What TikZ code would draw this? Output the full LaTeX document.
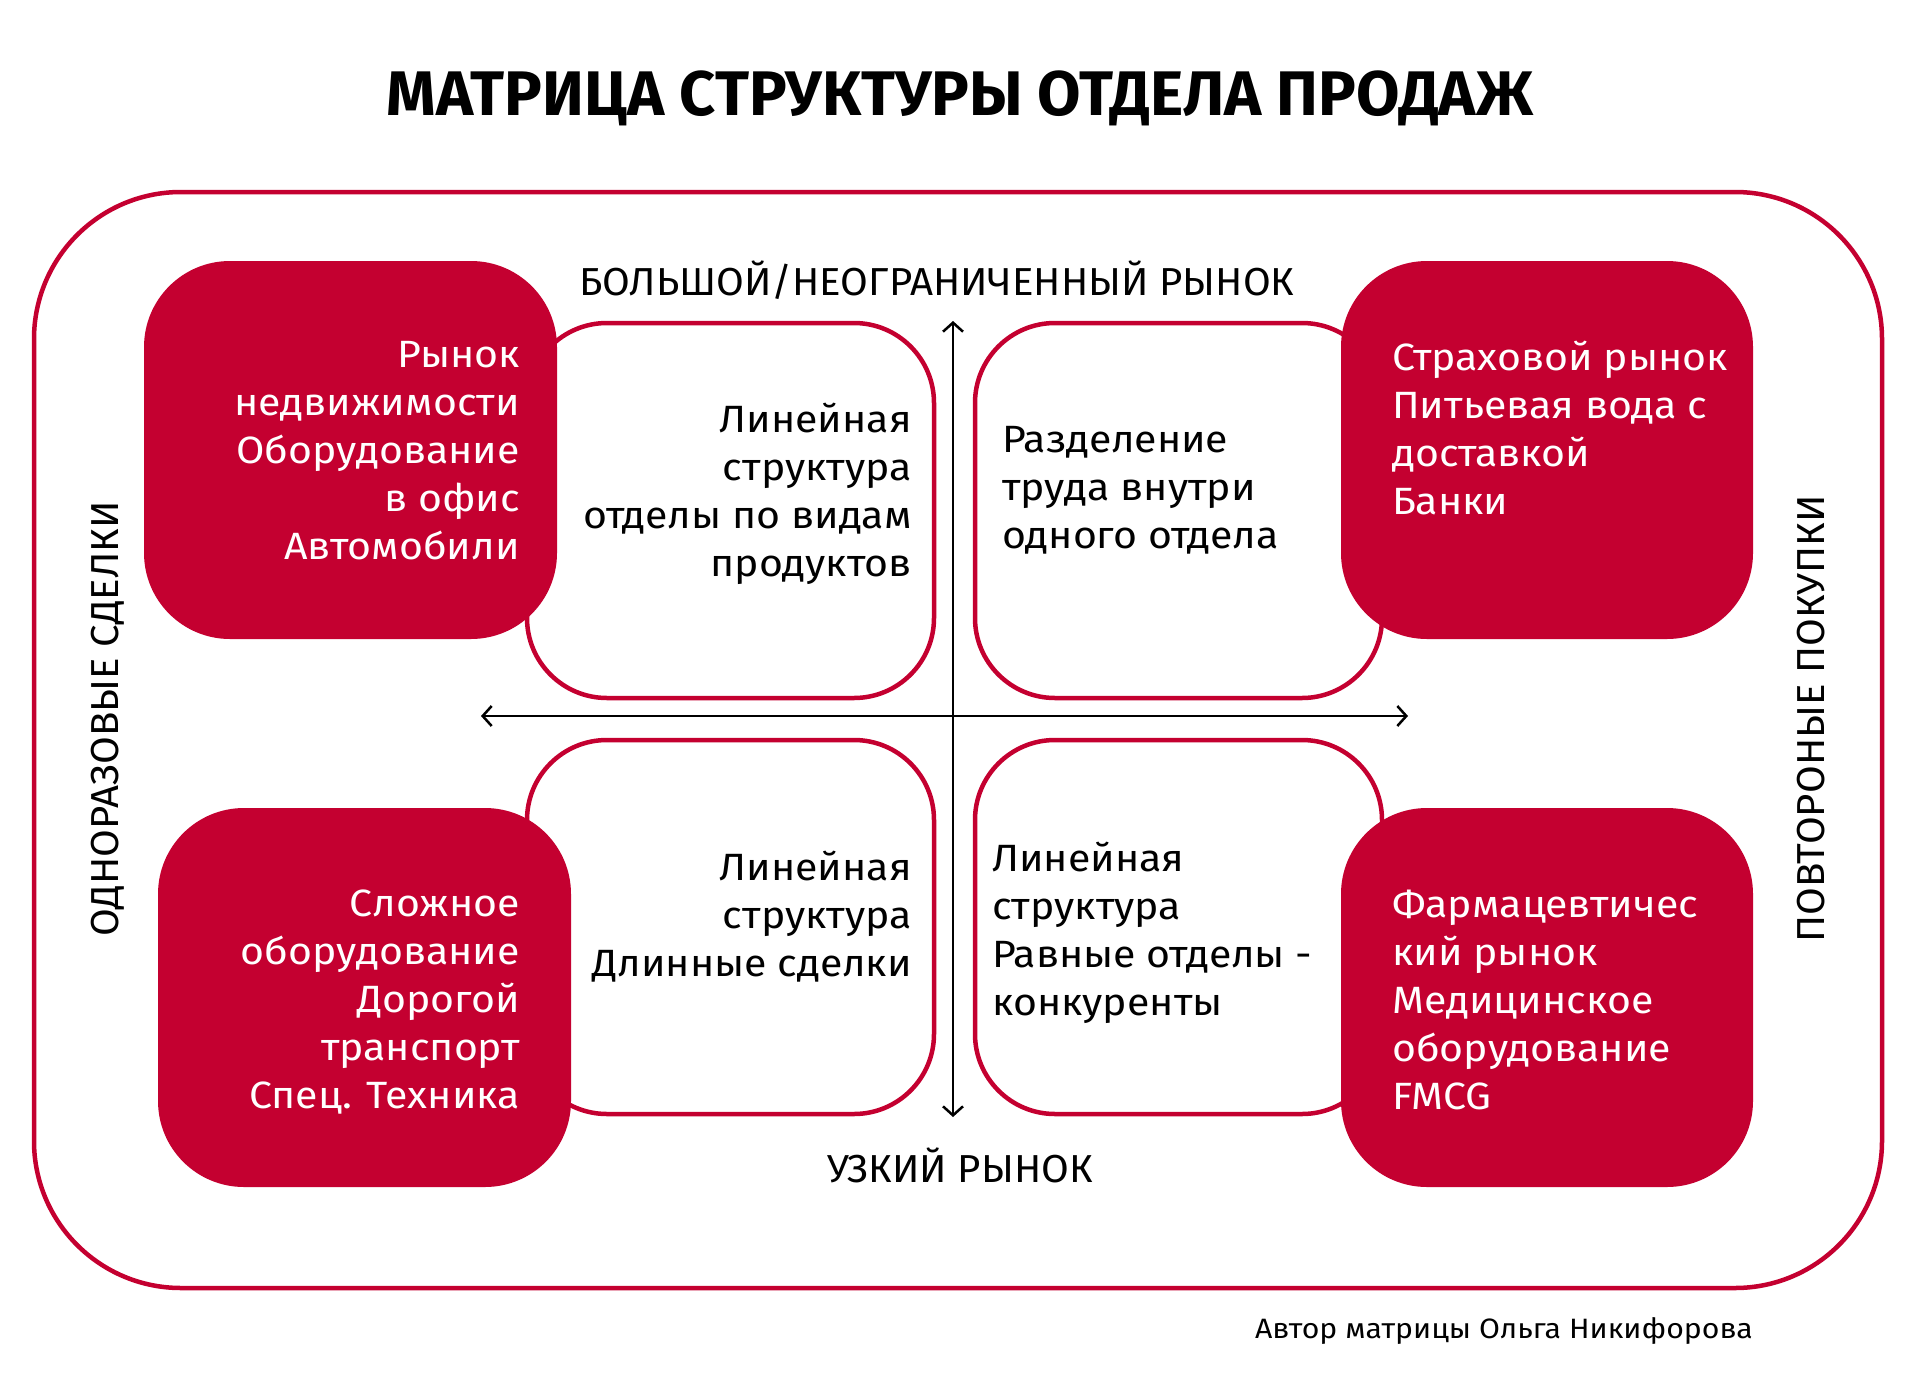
\documentclass[tikz,border=0pt]{standalone}
\usepackage{fontspec}
\setmainfont{Fira Sans}
\newfontfamily\widefont[FakeStretch=1.08]{Fira Sans}
\newfontfamily\labelfont[FakeStretch=1.03]{Fira Sans}
\usetikzlibrary{arrows.meta}
\definecolor{matred}{RGB}{196,0,48}
\begin{document}
\begin{tikzpicture}[x=1pt,y=-1pt,
    outline/.style={draw=matred,line width=4.5pt,fill=white,rounded corners=80pt},
    redbox/.style={fill=matred,rounded corners=86pt},
    boxtext/.style={inner sep=0pt,font=\widefont\fontsize{38}{48}\selectfont},
    whitetext/.style={boxtext,text=white},
    axis/.style={line width=2.5pt,{Straight Barb[length=9pt,width=20pt]}-{Straight Barb[length=9pt,width=20pt]}},
    axislabel/.style={inner sep=0pt,font=\labelfont\fontsize{39}{48}\selectfont}]
		\useasboundingbox (0,0) rectangle (1920,1376);
		\node[font=\fontsize{63}{80}\selectfont\bfseries] (title) at (960,98) {МАТРИЦА СТРУКТУРЫ ОТДЕЛА ПРОДАЖ};
		\draw[matred,line width=4.5pt,rounded corners=147pt] (34,192) rectangle (1882,1288);
		% white quadrants
		\draw[outline] (527,323) rectangle (934,698);
		\draw[outline] (975,323) rectangle (1382,698);
		\draw[outline] (527,740) rectangle (934,1114);
		\draw[outline] (975,740) rectangle (1382,1114);
		% red corner boxes
		\fill[redbox] (144,261) rectangle (557,639);
		\fill[redbox] (1341,261) rectangle (1753,639);
		\fill[redbox] (158,808) rectangle (571,1187);
		\fill[redbox] (1341,808) rectangle (1753,1187);
		% axes
		\coordinate (up) at (953,321);
		\coordinate (down) at (953,1117);
		\coordinate (left) at (481,716);
		\coordinate (right) at (1408,716);
		\draw[axis] (down) -- (up);
		\draw[axis] (left) -- (right);
		\node[axislabel] (wide market) at (937,280) {БОЛЬШОЙ/НЕОГРАНИЧЕННЫЙ РЫНОК};
		\node[axislabel] (narrow market) at (960,1165) {УЗКИЙ РЫНОК};
		\node[axislabel,rotate=90] (one-off) at (108,719) {ОДНОРАЗОВЫЕ СДЕЛКИ};
		\node[axislabel,rotate=90] (repeat) at (1811,719) {ПОВТОРОНЫЕ ПОКУПКИ};
		% texts in red boxes
		\node[whitetext,align=right,anchor=north east] (estate) at (520,341) {Рынок\\недвижимости\\Оборудование\\в офис\\Автомобили};
		\node[whitetext,align=left,anchor=north west] (insurance) at (1392,341) {Страховой рынок\\Питьевая вода с\\доставкой\\Банки};
		\node[whitetext,align=right,anchor=north east] (machinery) at (520,890) {Сложное\\оборудование\\Дорогой\\транспорт\\Спец. Техника};
		\node[whitetext,align=left,anchor=north west] (pharma) at (1392,890) {Фармацевтичес\\кий рынок\\Медицинское\\оборудование\\FMCG};
		% texts in white quadrants
		\node[boxtext,align=right,anchor=north east] (q1) at (912,403) {Линейная\\структура\\отделы по видам\\продуктов};
		\node[boxtext,align=left,anchor=north west] (q2) at (1002,426) {Разделение\\труда внутри\\одного отдела};
		\node[boxtext,align=right,anchor=north east] (q3) at (912,851) {Линейная\\структура\\Длинные сделки};
		\node[boxtext,align=left,anchor=north west] (q4) at (992,842) {Линейная\\структура\\Равные отделы -\\конкуренты};
		\node[inner sep=0pt,anchor=east,font=\widefont\fontsize{28}{32}\selectfont] (author) at (1753,1331) {Автор матрицы Ольга Никифорова};
	\end{tikzpicture}
\end{document}
